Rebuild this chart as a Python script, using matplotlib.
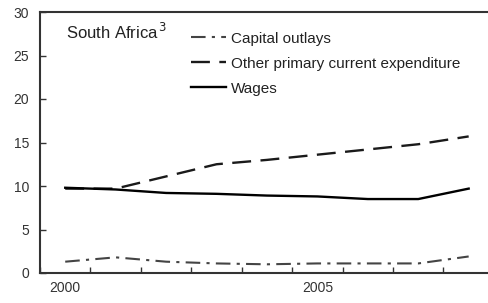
import matplotlib
matplotlib.use("Agg")
import matplotlib.pyplot as plt
import numpy as np

years = [2000, 2001, 2002, 2003, 2004, 2005, 2006, 2007, 2008]
capital_outlays = [1.3, 1.8, 1.3, 1.1, 1.0, 1.1, 1.1, 1.1, 1.9]
other_primary = [9.7, 9.7, 11.1, 12.5, 13.0, 13.6, 14.2, 14.8, 15.7]
wages = [9.8, 9.6, 9.2, 9.1, 8.9, 8.8, 8.5, 8.5, 9.7]
xlabels = ["2000", "2005"]
yticks = [0, 5, 10, 15, 20, 25, 30]

plt.rcParams['font.family'] = ['Liberation Sans', 'DejaVu Sans']

fig = plt.figure(figsize=(4.89, 3.03), dpi=100)
ax = fig.add_axes([40/489, 30/303, 1 - 40/489 + 0.01, 261/303])

x = np.arange(len(years))
ax.plot(x, capital_outlays, color='#444444', lw=1.5, dashes=(7, 3, 1.5, 3), label='Capital outlays')
ax.plot(x, other_primary, color='#1a1a1a', lw=1.7, dashes=(8, 4), label='Other primary current expenditure')
ax.plot(x, wages, color='#000000', lw=1.7, label='Wages')

ax.set_xlim(-0.5, 8.5)
ax.set_ylim(0, 30)
ax.set_yticks(yticks)
ax.set_xticks([years.index(int(l)) for l in xlabels])
ax.set_xticklabels(xlabels)
ax.set_xticks(np.arange(-0.5, 9.0, 1.0), minor=True)
ax.tick_params(axis='x', which='major', length=0, pad=6, labelsize=10, colors='#333333')
ax.tick_params(axis='x', which='minor', direction='in', length=4, width=1, color='#333333')
ax.tick_params(axis='y', direction='in', length=4, width=1, labelsize=10, colors='#333333', pad=8)
for s in ['left', 'bottom', 'top']:
    ax.spines[s].set_color('#333333')
    ax.spines[s].set_linewidth(1.5)
ax.spines['right'].set_visible(False)

ax.text(0.058, 0.925, 'South Africa$^{\\,3}$', transform=ax.transAxes, fontsize=12, va='center', ha='left', color='#222222')
leg = ax.legend(loc='upper left', bbox_to_anchor=(0.333, 0.925), frameon=False, fontsize=11,
                handlelength=2.3, handletextpad=0.3, labelspacing=0.72, borderaxespad=0, borderpad=0)
for t in leg.get_texts():
    t.set_color('#222222')

fig.savefig('out.png', dpi=100)
